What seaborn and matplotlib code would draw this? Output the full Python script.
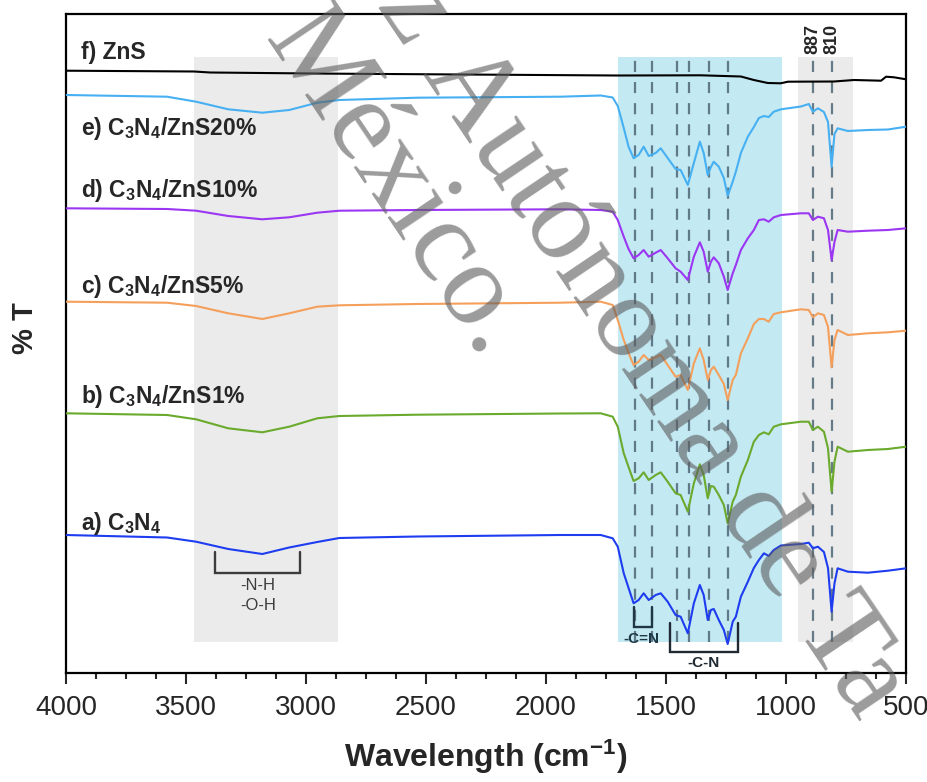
import numpy as np
import pandas as pd
import matplotlib
matplotlib.use("Agg")
import matplotlib.pyplot as plt
from matplotlib.ticker import MultipleLocator
import seaborn as sns

# ---------------- data ----------------
wavenumber = [4000, 3579, 3458, 3324, 3182, 3070, 2953, 2861, 2536, 1939, 1772, 1722, 1701,
              1676, 1656, 1635, 1614, 1593, 1572, 1543, 1522, 1493, 1460, 1439, 1409, 1384,
              1359, 1343, 1326, 1313, 1301, 1280, 1259, 1243, 1222, 1209, 1188, 1159, 1134,
              1113, 1092, 1072, 1051, 1021, 938, 905, 888, 867, 842, 825, 810, 798, 785,
              742, 659, 575, 500]

T_e = [578, 576.3, 571.3, 563.7, 560.3, 563, 570.3, 573, 575.3, 576.3, 577.5, 575.5, 567,
       545, 526.3, 514.7, 518, 526.3, 517, 520, 524.7, 515, 504, 503, 488, 510,
       531.3, 520, 498, 506, 511.3, 506.3, 495, 477.3, 491.3, 501.3, 520, 536.3, 546,
       555, 557, 556, 561.3, 563.7, 566.5, 569, 561.3, 564.7, 561, 551, 506.3, 539, 544.7,
       542, 543, 543.5, 546.3]
T_d = [464.7, 464, 462.3, 457, 453.7, 455.7, 460.3, 462.3, 463, 463.7, 463, 461.3, 453,
       436.3, 424, 414.7, 418, 423, 416.3, 420.3, 423, 414.7, 404.7, 401.3, 393, 416.3,
       430.7, 421.3, 401.3, 411.3, 415.7, 409.7, 396.3, 383, 399.7, 408, 423, 434.7, 443,
       453, 453.7, 451.3, 455.7, 458, 459.7, 459.7, 453, 456.3, 454.7, 443, 413, 431, 443,
       441.3, 442.3, 443, 444.7]
T_c = [371.3, 370.3, 367, 359.7, 354, 359.7, 366.3, 367.7, 369, 370.3, 371.3, 368, 353,
       333, 320, 308, 311.3, 318, 313, 315.7, 318, 308, 296.3, 298, 283, 309.7,
       324.7, 313, 293, 303, 306.3, 298, 289, 273, 293, 298, 319.7, 334.7, 349,
       354, 354, 351.3, 359, 360.7, 363.7, 363, 355.7, 359.7, 358, 346.3, 305.7, 333, 343,
       338, 339.7, 340.7, 342.3]
T_b = [259.7, 258, 253.7, 244.7, 240.7, 246.3, 254.7, 257, 258.3, 259.5, 259.7, 256.3, 246.3,
       219.7, 206, 192, 194.7, 200.7, 193, 198, 200.7, 191.3, 179.7, 178, 161.3, 189.7,
       208.7, 198, 174.7, 187, 186.3, 178, 168, 149.7, 171.3, 178, 196.3, 213, 231.3,
       238, 240.7, 238.7, 246.3, 248.7, 251.3, 251.3, 243, 246.3, 241.3, 224.7, 181.3, 211.3, 226.3,
       221.3, 223, 224, 226.3]
T_a = [138, 135.5, 131.3, 124, 119, 125.5, 131, 135, 136.5, 138, 138, 134.7, 126.3,
       99.7, 85, 69.7, 73, 79.7, 73, 78, 79.7, 71.3, 58, 56.3, 39.7, 69.7,
       88, 78, 53, 63, 64, 53, 43, 29, 51.3, 56.3, 76.3, 91.3, 105,
       113, 119.7, 117, 123, 127.5, 129, 130.3, 124.7, 126.3, 121, 105, 61.3, 89.7, 104.7,
       101.3, 100.3, 102.3, 104.7]

wavenumber_zns = [4000, 3466, 3399, 2924, 1701, 1355, 1188, 1134, 1076, 1022, 992, 800, 717,
                  604, 583, 550, 500]
T_f = [602.3, 601.5, 600.5, 599.4, 597.5, 597.7, 596.5, 593, 590, 589.7, 591.3, 591.5, 593,
       592.3, 596.3, 595.7, 593.7]

samples = ["a", "b", "c", "d", "e", "f"]
labels = [r"a) C$_3$N$_4$", r"b) C$_3$N$_4$/ZnS1%", r"c) C$_3$N$_4$/ZnS5%",
          r"d) C$_3$N$_4$/ZnS10%", r"e) C$_3$N$_4$/ZnS20%", "f) ZnS"]
label_T = [143, 270, 380, 476, 538, 614]
colors = ["#1e3cf0", "#6aaa2c", "#f4a05c", "#9b36f2", "#46b0f2", "#000000"]

bands = [(3466, 2865, "#ebebeb"), (1701, 1017, "#c3e9f3"), (950, 721, "#ebebeb")]
band_T = (31, 616)
peak_lines = [1630, 1560, 1455, 1405, 1320, 1240, 887, 810]
peak_labels = ["887", "810"]

xticks = [4000, 3500, 3000, 2500, 2000, 1500, 1000, 500]

# ---------------- figure ----------------
sns.set_style("ticks")
plt.rcParams["font.family"] = ["Liberation Sans", "DejaVu Sans"]
plt.rcParams["mathtext.fontset"] = "custom"
plt.rcParams["mathtext.rm"] = "Liberation Sans:bold"
plt.rcParams["mathtext.bf"] = "Liberation Sans:bold"
plt.rcParams["mathtext.default"] = "rm"

fig = plt.figure(figsize=(9.27, 7.82), dpi=100)
ax = fig.add_axes([66 / 927, 1 - 673 / 782, 840 / 927, 659 / 782])

# bands and dashed lines
for x0, x1, c in bands:
    ax.fill_between([x0, x1], band_T[0], band_T[1], color=c, lw=0, zorder=0)
for x in peak_lines:
    ax.plot([x, x], band_T, color="#4f6777", lw=1.6, ls=(0, (5, 4.5)), alpha=0.85, zorder=1)

frames = []
for s, y in zip(samples[:5], [T_a, T_b, T_c, T_d, T_e]):
    frames.append(pd.DataFrame({"wavenumber": wavenumber, "T": y, "sample": s}))
frames.append(pd.DataFrame({"wavenumber": wavenumber_zns, "T": T_f, "sample": "f"}))
df = pd.concat(frames, ignore_index=True)

sns.lineplot(data=df, x="wavenumber", y="T", hue="sample", palette=dict(zip(samples, colors)),
             sort=False, estimator=None, legend=False, lw=1.5, ax=ax, zorder=3)

for lab, yv in zip(labels, label_T):
    ax.text(3937, yv, lab, fontsize=16.5, fontweight="bold", ha="left", va="baseline", zorder=5)

for lab, x in zip(peak_labels, peak_lines[-2:]):
    ax.text(x, 619, lab, rotation=90, fontsize=13, fontweight="bold", ha="center", va="bottom")

# bracket annotations
def bracket(l, r, top, bot, color):
    ax.plot([l, l, r, r], [top, bot, bot, top], color=color, lw=1.7, zorder=4,
            solid_joinstyle="miter")

bracket(3378, 3024, 121, 100, "#3c3c3c")
ax.text(3201, 88, "-N-H", fontsize=12, color="#3c3c3c", ha="center", va="center")
ax.text(3201, 68, "-O-H", fontsize=12, color="#3c3c3c", ha="center", va="center")
bracket(1635, 1560, 66, 46, "#1f3747")
ax.text(1601, 34, "-C=N", fontsize=11, fontweight="bold", color="#1f3747", ha="center",
        va="center", zorder=6)
bracket(1485, 1201, 50, 21, "#1f2a33")
ax.text(1343, 10, "-C-N", fontsize=11, fontweight="bold", color="#1f2a33", ha="center",
        va="center", zorder=6)

# axes
ax.set_xlim(4000, 500)
ax.set_ylim(0, 659)
ax.set_xticks(xticks)
ax.set_xticklabels([str(t) for t in xticks], fontsize=20)
ax.xaxis.set_minor_locator(MultipleLocator(125))
ax.set_yticks([])
ax.tick_params(axis="x", which="major", direction="out", length=8, width=1.5, pad=8, top=False)
ax.tick_params(axis="x", which="minor", direction="out", length=4.5, width=1.5, top=False)
for sp in ax.spines.values():
    sp.set_linewidth(1.6)
    sp.set_color("black")
    sp.set_visible(True)
ax.set_xlabel(r"Wavelength (cm$^{-1}$)", fontsize=23, fontweight="bold", labelpad=12)
ax.set_ylabel("% T", fontsize=21, fontweight="bold")
ax.yaxis.set_label_coords(-0.032, 0.523)

# watermark
wm = dict(family=["Liberation Serif", "DejaVu Serif"], fontsize=85, color="#5e5e5e",
          alpha=0.62, rotation=-56, rotation_mode="anchor", va="baseline", zorder=10)
fig.text(422 / 927, 1 - 73 / 782, "Autónoma de Ta", ha="left", **wm)
fig.text(422 / 927, 1 - 73 / 782, "z ", ha="right", **wm)
fig.text(263 / 927, 1 - 39 / 782, "México.", ha="left", **wm)

fig.savefig("out.png", dpi=100)
